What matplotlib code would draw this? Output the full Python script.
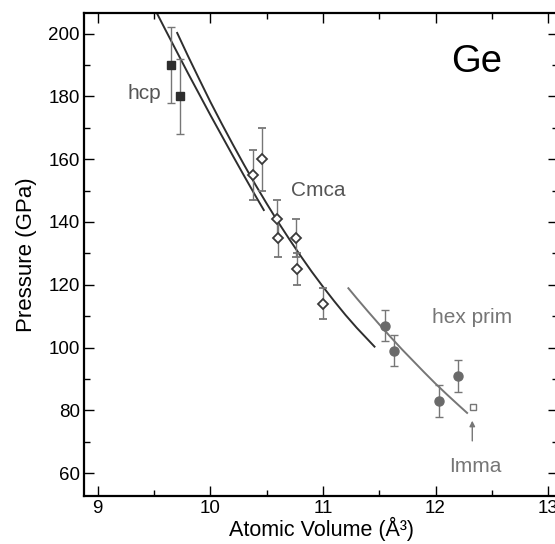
import numpy as np
import matplotlib.pyplot as plt

plt.rcParams['font.family'] = ['Liberation Sans', 'DejaVu Sans']

# Experimental points
hcp_v = [9.65, 9.735]
hcp_p = [190, 180]
hcp_err = [12, 12]

cmca_v = [10.38, 10.46, 10.59, 10.60, 10.76, 10.77, 11.00]
cmca_p = [155, 160, 141, 135, 135, 125, 114]
cmca_err = [8, 10, 6, 6, 6, 5, 5]

hex_v = [11.55, 11.63, 12.03, 12.195]
hex_p = [107, 99, 83, 91]
hex_err = [5, 5, 5, 5]

imma_v = [12.33]
imma_p = [81]

# Calculated curves
curve_a_v = [9.50, 9.52, 9.60, 9.70, 9.80, 9.90, 10.00, 10.10, 10.20, 10.30, 10.40, 10.475]
curve_a_p = [207.8, 206.9, 201.3, 194.4, 187.5, 180.8, 174.1, 167.6, 161.1, 154.7, 148.4, 143.8]

curve_b_v = [9.706, 9.80, 9.90, 10.00, 10.10, 10.20, 10.30, 10.40, 10.50, 10.60,
             10.70, 10.80, 10.90, 11.00, 11.10, 11.20, 11.30, 11.40, 11.458]
curve_b_p = [200.2, 193.0, 185.6, 178.3, 171.4, 164.7, 158.2, 151.9, 145.9, 140.1,
             134.6, 129.3, 124.2, 119.4, 114.8, 110.4, 106.3, 102.5, 100.3]

hex_curve_v = [11.226, 11.30, 11.40, 11.50, 11.60, 11.70, 11.80, 11.90, 12.00, 12.10, 12.20, 12.28]
hex_curve_p = [118.9, 115.7, 111.5, 107.4, 103.4, 99.5, 95.8, 92.1, 88.5, 85.1, 81.8, 79.2]

dark = '#2e2e2e'
gray = '#767676'

fig = plt.figure(figsize=(5.55, 5.44), dpi=100)
ax = fig.add_axes([0.151, 0.088, 0.855, 0.889])

ax.plot(curve_a_v, curve_a_p, color=dark, lw=1.4)
ax.plot(curve_b_v, curve_b_p, color=dark, lw=1.4)
ax.plot(hex_curve_v, hex_curve_p, color=gray, lw=1.4)

ax.errorbar(hcp_v, hcp_p, yerr=hcp_err, fmt='s', color=dark, ms=6.2,
            ecolor=gray, elinewidth=1, capsize=3, capthick=1)
ax.errorbar(cmca_v, cmca_p, yerr=cmca_err, fmt='D', mfc='white', mec='#3a3a3a',
            mew=1.3, ms=5.5, ecolor=gray, elinewidth=1, capsize=3, capthick=1)
ax.errorbar(hex_v, hex_p, yerr=hex_err, fmt='o', color='#6a6a6a', ms=6.5,
            ecolor=gray, elinewidth=1, capsize=3, capthick=1)
ax.plot(imma_v, imma_p, 's', mfc='white', mec=gray, mew=1, ms=5)

ax.annotate('', xy=(12.326, 77.6), xytext=(12.326, 69.4),
            arrowprops=dict(arrowstyle='-|>', color=gray, lw=1, mutation_scale=8))

ax.text(9.41, 179.2, 'hcp', fontsize=15, color='#555555', ha='center', va='baseline')
ax.text(10.955, 148.3, 'Cmca', fontsize=15, color='#555555', ha='center', va='baseline')
ax.text(12.32, 107.7, 'hex prim', fontsize=15, color=gray, ha='center', va='baseline')
ax.text(12.357, 60.3, 'Imma', fontsize=15, color=gray, ha='center', va='baseline')
ax.text(12.365, 187.8, 'Ge', fontsize=27.5, color='black', ha='center', va='baseline')

ax.set_xlim(8.877, 13.09)
ax.set_ylim(52.7, 206.7)
ax.set_xticks([9, 10, 11, 12, 13])
ax.set_xticks(np.arange(9.5, 13, 1.0), minor=True)
ax.set_yticks([60, 80, 100, 120, 140, 160, 180, 200])
ax.set_yticks(np.arange(70, 206, 20), minor=True)

ax.tick_params(which='both', direction='in', top=True, right=True, width=1,
               labelsize=13.5, pad=3)
ax.tick_params(which='major', length=7)
ax.tick_params(which='minor', length=4.5)
for s in ax.spines.values():
    s.set_linewidth(1.6)

ax.set_xlabel('Atomic Volume (Å³)', fontsize=15.5, labelpad=0)
ax.set_ylabel('Pressure (GPa)', fontsize=16, labelpad=8)

fig.savefig('out.png', dpi=100)
